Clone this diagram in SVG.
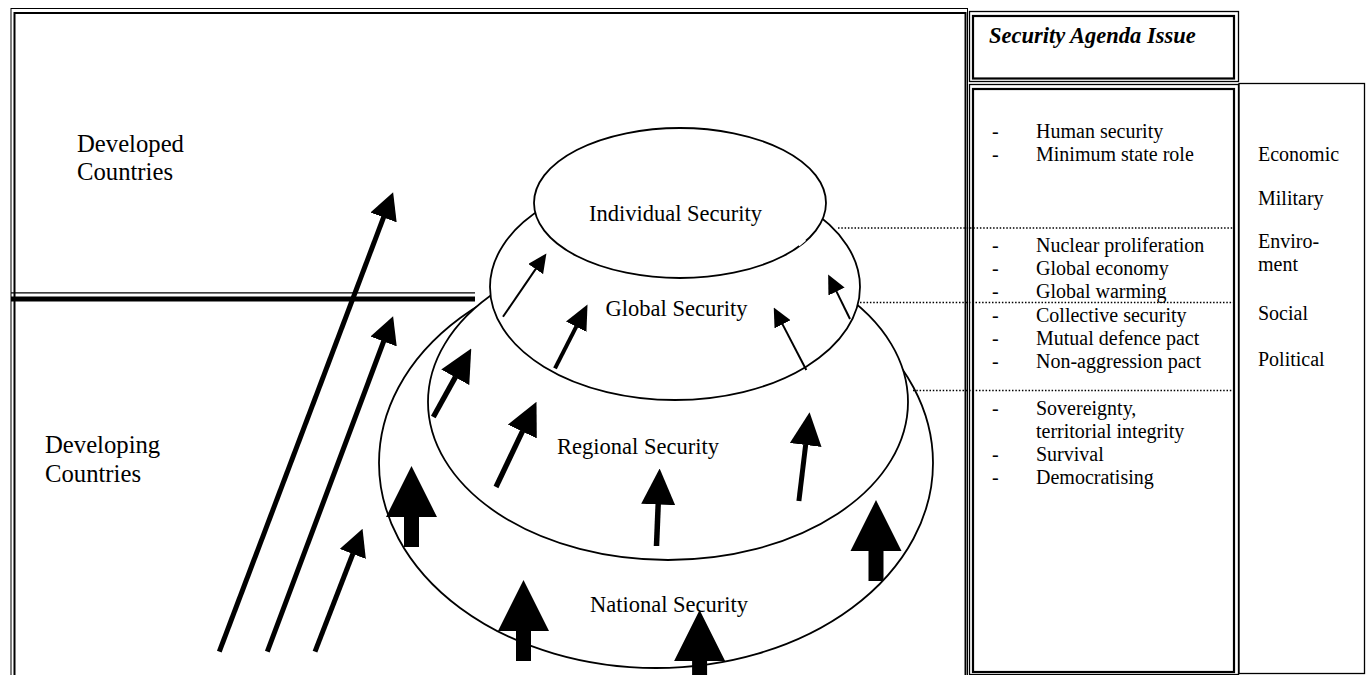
<svg xmlns="http://www.w3.org/2000/svg" width="1369" height="675" viewBox="0 0 1369 675">
<style>
text{font-family:"Liberation Serif","Times New Roman",serif;fill:#000}
.lbl{font-size:22.5px;text-anchor:middle}
.big{font-size:24.7px}
.it{font-size:20px}
.hd{font-size:22.5px;font-weight:bold;font-style:italic}
.ell{fill:#fff;stroke:#000;stroke-width:1.8}
.frm{fill:none;stroke:#000}
.dot{stroke:#000;stroke-width:1.5;stroke-dasharray:1.5 1.8;fill:none}
.arr{stroke:#000;fill:none}
.blk{fill:#000}
</style>
<defs>
<marker id="ha" viewBox="0 0 27 28" refX="0.5" refY="14" markerWidth="27" markerHeight="28" markerUnits="userSpaceOnUse" orient="auto"><path d="M0,0 L27,14 L0,28 z"/></marker>
<marker id="hb" viewBox="0 0 33 32" refX="0.5" refY="16" markerWidth="33" markerHeight="32" markerUnits="userSpaceOnUse" orient="auto"><path d="M0,0 L33,16 L0,32 z"/></marker>
<marker id="hm" viewBox="0 0 36 34" refX="0.5" refY="17" markerWidth="36" markerHeight="34" markerUnits="userSpaceOnUse" orient="auto"><path d="M0,0 L36,17 L0,34 z"/></marker>
<marker id="hc" viewBox="0 0 25 23" refX="0.5" refY="11.5" markerWidth="25" markerHeight="23" markerUnits="userSpaceOnUse" orient="auto"><path d="M0,0 L25,11.5 L0,23 z"/></marker>
<marker id="hd" viewBox="0 0 19 18" refX="0.5" refY="9" markerWidth="19" markerHeight="18" markerUnits="userSpaceOnUse" orient="auto"><path d="M0,0 L19,9 L0,18 z"/></marker>
<path id="block" d="M0,0 L25.5,51 L7.5,51 L7.5,81 L-7.5,81 L-7.5,51 L-25.5,51 Z"/>
</defs>

<g id="frame">
<rect class="frm" x="11" y="8.5" width="956.5" height="700" stroke-width="1"/>
<rect class="frm" x="14.5" y="13" width="951" height="700" stroke-width="2"/>
<line x1="11" y1="292.8" x2="475" y2="292.8" stroke="#000" stroke-width="1.2"/>
<line x1="11" y1="299" x2="475" y2="299" stroke="#000" stroke-width="5"/>
</g>

<g id="developed">
<text class="big" x="77" y="152">Developed</text>
<text class="big" x="77" y="180">Countries</text>
</g>
<g id="developing">
<text class="big" x="45" y="453">Developing</text>
<text class="big" x="45" y="482">Countries</text>
</g>

<g id="national">
<ellipse class="ell" cx="656" cy="463" rx="277" ry="205"/>
<text class="lbl" x="669" y="612">National Security</text>
</g>
<g id="regional">
<ellipse class="ell" cx="668" cy="402" rx="240" ry="158"/>
<text class="lbl" x="638" y="454">Regional Security</text>
</g>
<g id="global">
<ellipse class="ell" cx="675" cy="287" rx="185" ry="113"/>
<text class="lbl" x="676.5" y="316">Global Security</text>
</g>
<g id="individual">
<ellipse class="ell" cx="680" cy="203" rx="146" ry="75"/>
<line x1="798.5" y1="245" x2="805" y2="239.5" stroke="#fff" stroke-width="3"/>
<text class="lbl" x="675.5" y="221">Individual Security</text>
</g>

<g id="connectors">
<line class="arr" x1="219.3" y1="651.7" x2="383.75" y2="216.95" stroke-width="5" marker-end="url(#ha)"/>
<line class="arr" x1="267.3" y1="651.7" x2="383.8" y2="341" stroke-width="5" marker-end="url(#ha)"/>
<line class="arr" x1="315" y1="651.7" x2="352.97" y2="553.48" stroke-width="5" marker-end="url(#ha)"/>

<line class="arr" x1="433.3" y1="417" x2="455.5" y2="376.9" stroke-width="5.3" marker-end="url(#hb)"/>
<line class="arr" x1="496" y1="487" x2="522.55" y2="431.1" stroke-width="5.3" marker-end="url(#hb)"/>
<line class="arr" x1="656.5" y1="546" x2="658.2" y2="504" stroke-width="5.5" marker-end="url(#hm)"/>
<line class="arr" x1="798.9" y1="501" x2="805.7" y2="444.5" stroke-width="5" marker-end="url(#hb)"/>

<line class="arr" x1="503" y1="316.7" x2="535.95" y2="268.67" stroke-width="2" marker-end="url(#hd)"/>
<line class="arr" x1="555" y1="368.3" x2="576.4" y2="326.3" stroke-width="4" marker-end="url(#hc)"/>
<line class="arr" x1="806.3" y1="370" x2="782.3" y2="323.85" stroke-width="2" marker-end="url(#hd)"/>
<line class="arr" x1="850" y1="319" x2="836.3" y2="291.1" stroke-width="2" marker-end="url(#hd)"/>

<use href="#block" class="blk" x="411.5" y="466"/>
<use href="#block" class="blk" x="523.5" y="580"/>
<use href="#block" class="blk" x="699.6" y="610"/>
<use href="#block" class="blk" x="876" y="500"/>

<line class="dot" x1="838" y1="228" x2="1234" y2="228"/>
<line class="dot" x1="860" y1="302.5" x2="1234" y2="302.5"/>
<line class="dot" x1="913" y1="390.5" x2="1234" y2="390.5"/>
</g>

<g id="header">
<rect class="frm" x="969.5" y="11.5" width="269" height="70" stroke-width="1.3"/>
<rect class="frm" x="973" y="16" width="261" height="62.5" stroke-width="2.2"/>
<text class="hd" x="989" y="43">Security Agenda Issue</text>
</g>

<g id="issues">
<rect class="frm" x="969.5" y="84.5" width="269" height="590" stroke-width="1.3"/>
<rect class="frm" x="973" y="89" width="261" height="583" stroke-width="2.2"/>
<text class="it" x="992" y="137.7">-</text><text class="it" x="1036" y="137.7">Human security</text>
<text class="it" x="992" y="161">-</text><text class="it" x="1036" y="161">Minimum state role</text>
<text class="it" x="992" y="252">-</text><text class="it" x="1036" y="252">Nuclear proliferation</text>
<text class="it" x="992" y="275">-</text><text class="it" x="1036" y="275">Global economy</text>
<text class="it" x="992" y="298">-</text><text class="it" x="1036" y="298">Global warming</text>
<text class="it" x="992" y="321.7">-</text><text class="it" x="1036" y="321.7">Collective security</text>
<text class="it" x="992" y="345">-</text><text class="it" x="1036" y="345">Mutual defence pact</text>
<text class="it" x="992" y="368">-</text><text class="it" x="1036" y="368">Non-aggression pact</text>
<text class="it" x="992" y="415">-</text><text class="it" x="1036" y="415">Sovereignty,</text>
<text class="it" x="1036" y="438">territorial integrity</text>
<text class="it" x="992" y="460.5">-</text><text class="it" x="1036" y="460.5">Survival</text>
<text class="it" x="992" y="483.5">-</text><text class="it" x="1036" y="483.5">Democratising</text>
</g>

<g id="sectors">
<rect class="frm" x="1239" y="83.5" width="125.5" height="590" stroke-width="1.3"/>
<text class="it" x="1258" y="161">Economic</text>
<text class="it" x="1258" y="205">Military</text>
<text class="it" x="1258" y="248.3">Enviro-</text>
<text class="it" x="1258" y="271">ment</text>
<text class="it" x="1258" y="319.5">Social</text>
<text class="it" x="1258" y="366">Political</text>
</g>
</svg>
